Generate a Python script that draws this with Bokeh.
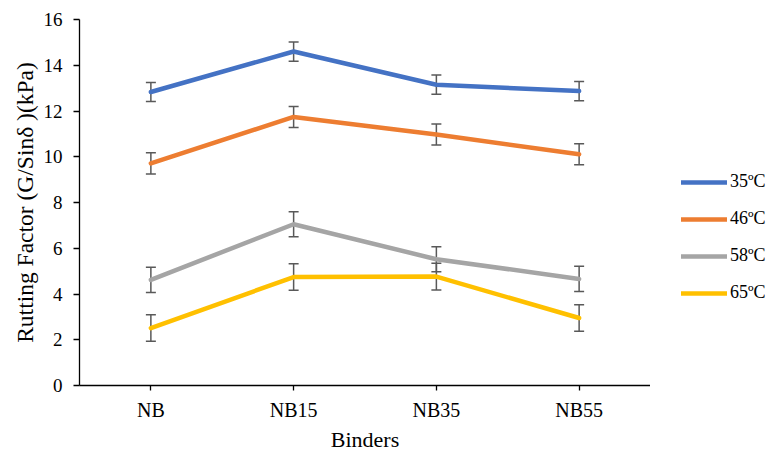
from bokeh.plotting import figure
from bokeh.layouts import row
from bokeh.models import (FactorRange, Range1d, FixedTicker, ColumnDataSource,
                          Whisker, TeeHead, Legend, LegendItem)
from bokeh.embed import file_html
from bokeh.resources import INLINE

categories = ["NB", "NB15", "NB35", "NB55"]
series_names = ["35ºC", "46ºC", "58ºC", "65ºC"]
t35 = [12.83, 14.60, 13.15, 12.87]
t46 = [9.71, 11.74, 10.97, 10.11]
t58 = [4.62, 7.05, 5.52, 4.66]
t65 = [2.51, 4.74, 4.76, 2.95]
err35 = [0.42, 0.42, 0.42, 0.42]
err46 = [0.46, 0.46, 0.46, 0.46]
err58 = [0.55, 0.55, 0.55, 0.55]
err65 = [0.58, 0.58, 0.58, 0.58]
y_ticks = [0, 2, 4, 6, 8, 10, 12, 14, 16]
colors = ["#4472C4", "#ED7D31", "#A5A5A5", "#FFC000"]

FONT = "Liberation Serif"

p = figure(width=650, height=454, x_range=FactorRange(*categories),
           y_range=Range1d(0, 16), output_backend="svg", toolbar_location=None,
           min_border_left=79, min_border_top=19, min_border_bottom=68,
           min_border_right=0)
p.outline_line_color = None
p.xgrid.grid_line_color = None
p.ygrid.grid_line_color = None

p.yaxis.ticker = FixedTicker(ticks=y_ticks)
p.yaxis.minor_tick_line_color = None
p.yaxis.major_tick_in = 0
p.yaxis.major_tick_out = 6
p.yaxis.major_label_standoff = 11
p.yaxis.axis_label = "Rutting Factor (G/Sinδ )(kPa)"
p.yaxis.axis_label_standoff = 3
p.yaxis.major_label_text_font_size = "19px"
p.yaxis.axis_label_text_font_size = "23.5px"
p.xaxis.major_tick_in = 0
p.xaxis.major_tick_out = 5
p.xaxis.major_label_standoff = 8
p.xaxis.axis_label = "Binders"
p.xaxis.axis_label_standoff = 3
p.xaxis.major_label_text_font_size = "20px"
p.xaxis.axis_label_text_font_size = "22px"
for ax in (p.xaxis, p.yaxis):
    ax.axis_line_color = "black"
    ax.axis_line_width = 1.3
    ax.major_tick_line_color = "black"
    ax.major_tick_line_width = 1.3
    ax.major_label_text_font = FONT
    ax.major_label_text_color = "black"
    ax.axis_label_text_font = FONT
    ax.axis_label_text_font_style = "normal"
    ax.axis_label_text_color = "black"

for vals, col in zip([t35, t46, t58, t65], colors):
    src = ColumnDataSource(dict(x=categories, y=vals))
    p.line("x", "y", source=src, line_color=col, line_width=4.5,
           line_cap="round", line_join="round")

for vals, errs in zip([t35, t46, t58, t65], [err35, err46, err58, err65]):
    src = ColumnDataSource(dict(x=categories,
                                upper=[v + e for v, e in zip(vals, errs)],
                                lower=[v - e for v, e in zip(vals, errs)]))
    w = Whisker(source=src, base="x", upper="upper", lower="lower",
                dimension="height", line_color="#595959", line_width=1.5,
                upper_head=TeeHead(size=10, line_color="#595959", line_width=1.5),
                lower_head=TeeHead(size=10, line_color="#595959", line_width=1.5))
    p.add_layout(w)

# legend panel on the right
lg = figure(width=124, height=454, x_range=Range1d(0, 1), y_range=Range1d(0, 1),
            x_axis_type=None, y_axis_type=None, output_backend="svg",
            toolbar_location=None, min_border=0)
lg.outline_line_color = None
lg.xgrid.grid_line_color = None
lg.ygrid.grid_line_color = None
nan = float("nan")
items = []
for name, col in zip(series_names, colors):
    r = lg.line(x=[nan, nan], y=[nan, nan], line_color=col, line_width=4.5,
                line_cap="round")
    items.append(LegendItem(label=name, renderers=[r]))
legend = Legend(items=items, location=(31, 82), orientation="vertical",
                glyph_width=46, glyph_height=20, label_height=20,
                label_standoff=3, spacing=16, padding=0, margin=0,
                border_line_color=None, background_fill_alpha=0,
                label_text_font=FONT, label_text_font_size="18px",
                label_text_color="black")
lg.add_layout(legend)

layout = row(p, lg, spacing=0)
open("out.html", "w").write(file_html(layout, INLINE))
